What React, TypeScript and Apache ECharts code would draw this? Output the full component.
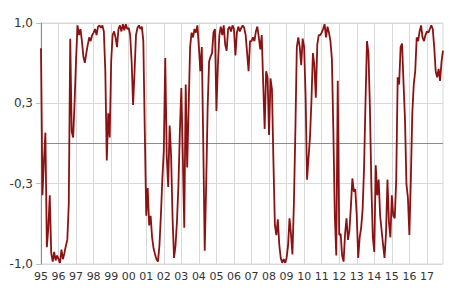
import React, { useEffect, useRef } from "react";
import * as echarts from "echarts";

const yearLabels = [
  "95", "96", "97", "98", "99", "00", "01", "02", "03", "04", "05", "06",
  "07", "08", "09", "10", "11", "12", "13", "14", "15", "16", "17",
];

// monthly values, Jan 1995 .. Dec 2017 (one row per year)
const correlation = [
  0.79, -0.43, -0.15, 0.09, -0.86, -0.7, -0.43, -0.91, -0.98, -0.9, -0.97, -0.93,
  -0.96, -0.99, -0.88, -0.96, -0.91, -0.85, -0.8, -0.5, 0.87, 0.1, 0.05, 0.35,
  0.7, 0.98, 0.9, 0.95, 0.85, 0.72, 0.67, 0.75, 0.82, 0.88, 0.85, 0.9,
  0.92, 0.95, 0.9, 0.97, 0.98, 0.96, 0.98, 0.93, 0.6, -0.14, 0.25, 0.05,
  0.68, 0.9, 0.93, 0.88, 0.8, 0.95, 0.98, 0.93, 0.99, 0.94, 0.99, 0.95,
  0.96, 0.9, 0.68, 0.32, 0.6, 0.9, 0.96, 0.98, 0.95, 0.97, 0.85, 0.1,
  -0.6, -0.37, -0.68, -0.6, -0.78, -0.87, -0.92, -0.96, -0.98, -0.85, -0.6, -0.3,
  -0.06, 0.71, -0.1, -0.36, 0.15, -0.1, -0.62, -0.95, -0.85, -0.65, -0.35, 0.1,
  0.46, -0.1, -0.7, 0.49, -0.2, 0.3, 0.8, 0.92, 0.88, 0.95, 0.92, 0.98,
  0.8, 0.6, 0.8, 0.0, -0.89, -0.34, 0.3, 0.68, 0.72, 0.75, 0.92, 0.95,
  0.27, 0.65, 0.9, 0.97, 0.9, 0.98, 0.82, 0.77, 0.95, 0.97, 0.93, 0.98,
  0.95, 0.73, 0.92, 0.97, 0.93, 0.96, 0.98, 0.96, 0.9, 0.75, 0.6, 0.85,
  0.85, 0.88, 0.85, 0.93, 0.97, 0.88, 0.78, 0.9, 0.5, 0.12, 0.6, 0.55,
  0.07, 0.54, 0.45, -0.15, -0.68, -0.76, -0.63, -0.84, -0.95, -0.99, -0.96, -0.99,
  -0.95, -0.85, -0.62, -0.75, -0.92, -0.5, 0.1, 0.8, 0.88, 0.8, 0.65, 0.87,
  0.8, 0.4, -0.3, -0.12, 0.05, 0.35, 0.75, 0.65, 0.38, 0.82, 0.9, 0.9,
  0.92, 0.95, 0.99, 0.88, 0.97, 0.92, 0.85, 0.7, 0.1, -0.6, -0.93, 0.52,
  -0.76, -0.75, -0.93, -0.98, -0.75, -0.62, -0.8, -0.72, -0.52, -0.29, -0.4, -0.38,
  -0.6, -0.95, -0.78, -0.7, -0.55, -0.2, 0.35, 0.85, 0.75, 0.3, -0.35, -0.78,
  -0.9, -0.18, -0.43, -0.3, -0.6, -0.72, -0.84, -0.95, -0.75, -0.3, -0.65, -0.78,
  -0.43, -0.6, -0.62, -0.3, 0.55, 0.49, 0.8, 0.83, 0.5, 0.2, -0.34, -0.45,
  -0.76, -0.3, 0.25, 0.49, 0.6, 0.88, 0.85, 0.93, 0.98, 0.88, 0.85, 0.9,
  0.93, 0.92, 0.95, 0.98, 0.95, 0.8, 0.6, 0.55, 0.62, 0.52, 0.68, 0.77,
];

const yMin = -1;
const yMax = 1;
const yStep = 2 / 3;

export default function App() {
  const ref = useRef<HTMLDivElement>(null);

  useEffect(() => {
    if (!ref.current) return;
    const chart = echarts.init(ref.current, null, { renderer: "svg" });
    const months: string[] = [];
    yearLabels.forEach((y) => {
      for (let m = 1; m <= 12; m++) months.push(`${y}-${m}`);
    });
    const font = "DejaVu Sans";
    chart.setOption({
      animation: false,
      backgroundColor: "#ffffff",
      grid: {
        left: 41,
        right: 7,
        top: 23,
        bottom: 27,
        show: true,
        borderColor: "#d9d9d9",
        borderWidth: 1,
      },
      xAxis: {
        type: "category",
        data: months,
        boundaryGap: false,
        axisLine: { show: false },
        axisTick: { show: false },
        axisLabel: {
          interval: 11,
          margin: 7,
          color: "#333333",
          fontFamily: font,
          fontSize: 11,
          formatter: (_v: string, idx: number) =>
            idx % 12 === 0 ? yearLabels[idx / 12] : "",
        },
        splitLine: {
          show: true,
          interval: 11,
          lineStyle: { color: "#d9d9d9", width: 1 },
        },
      },
      yAxis: {
        type: "value",
        min: yMin,
        max: yMax,
        interval: yStep,
        axisLine: { show: true, lineStyle: { color: "#8c8c8c", width: 1 } },
        axisTick: { show: true, length: 5, lineStyle: { color: "#bfbfbf" } },
        axisLabel: {
          margin: 8,
          color: "#333333",
          fontFamily: font,
          fontSize: 12,
          formatter: (v: number) => v.toFixed(1).replace(".", ","),
        },
        splitLine: { show: true, lineStyle: { color: "#d9d9d9", width: 1 } },
      },
      series: [
        {
          type: "line",
          data: correlation,
          showSymbol: false,
          symbol: "none",
          lineStyle: { color: "#8b1212", width: 1.8 },
          z: 3,
          markLine: {
            silent: true,
            symbol: "none",
            label: { show: false },
            lineStyle: { color: "#8c8c8c", width: 1, type: "solid" },
            data: [{ yAxis: 0 }],
            z: 2,
          },
        },
      ],
    });
    return () => chart.dispose();
  }, []);

  return (
    <div
      ref={ref}
      style={{ position: "fixed", left: 0, top: 0, width: 450, height: 291 }}
    />
  );
}
